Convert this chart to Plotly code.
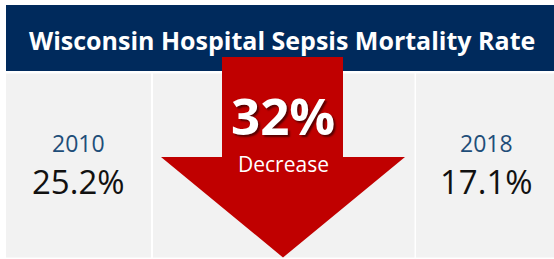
import plotly.graph_objects as go

# Data
title_text = "Wisconsin Hospital Sepsis Mortality Rate"
years = ["2010", "2018"]
rates = [25.2, 17.1]
change_label = "Decrease"

pct_change = round((rates[0] - rates[1]) / rates[0] * 100)

NAVY = "#002a5c"
RED = "#c00000"
GRAY = "#f2f2f2"
YEAR_COLOR = "#1f4e79"
FONT = "Open Sans"

W, H = 554, 259

fig = go.Figure()
fig.add_trace(go.Scatter(x=[0, W], y=[0, H], mode="markers",
                         marker=dict(opacity=0), hoverinfo="skip", showlegend=False))

shapes = [
    dict(type="rect", x0=6, x1=554, y0=5, y1=71, fillcolor=NAVY, line_width=0, layer="below"),
    dict(type="rect", x0=6, x1=151, y0=73.5, y1=257.5, fillcolor=GRAY, line_width=0, layer="below"),
    dict(type="rect", x0=153, x1=414.5, y0=73.5, y1=257.5, fillcolor=GRAY, line_width=0, layer="below"),
    dict(type="rect", x0=416, x1=554, y0=73.5, y1=257.5, fillcolor=GRAY, line_width=0, layer="below"),
    dict(type="path",
         path="M 222 57 L 343 57 L 343 157 L 405 157 L 283 257.5 L 161 157 L 222 157 Z",
         fillcolor=RED, line_width=0, layer="below"),
]

panel_centers = [78.5, 486]
annotations = [
    dict(x=282, y=40, text=f"<b>{title_text}</b>", showarrow=False,
         font=dict(family=FONT, size=25, color="white"), xanchor="center", yanchor="middle"),
    dict(x=283, y=115, text=f"<b>{pct_change}%</b>", showarrow=False,
         font=dict(family=FONT, size=51, color="white", shadow="2px 2px 2px rgba(0,0,0,0.55)"),
         xanchor="center", yanchor="middle"),
    dict(x=283, y=164, text=change_label, showarrow=False,
         font=dict(family=FONT, size=21, color="white"), xanchor="center", yanchor="middle"),
]
for cx, yr, rt in zip(panel_centers, years, rates):
    annotations.append(dict(x=cx, y=143, text=yr, showarrow=False,
                            font=dict(family=FONT, size=23, color=YEAR_COLOR),
                            xanchor="center", yanchor="middle"))
    annotations.append(dict(x=cx, y=181, text=f"{rt:.1f}%", showarrow=False,
                            font=dict(family=FONT, size=33, color="#111111"),
                            xanchor="center", yanchor="middle"))

fig.update_layout(
    width=W, height=H,
    margin=dict(l=0, r=0, t=0, b=0),
    paper_bgcolor="white", plot_bgcolor="white",
    xaxis=dict(range=[0, W], visible=False, fixedrange=True),
    yaxis=dict(range=[H, 0], visible=False, fixedrange=True),
    shapes=shapes, annotations=annotations,
)

fig.write_html("out.html", config={"displayModeBar": False},
               post_script="document.body.style.margin='0';document.body.style.overflow='hidden';")
